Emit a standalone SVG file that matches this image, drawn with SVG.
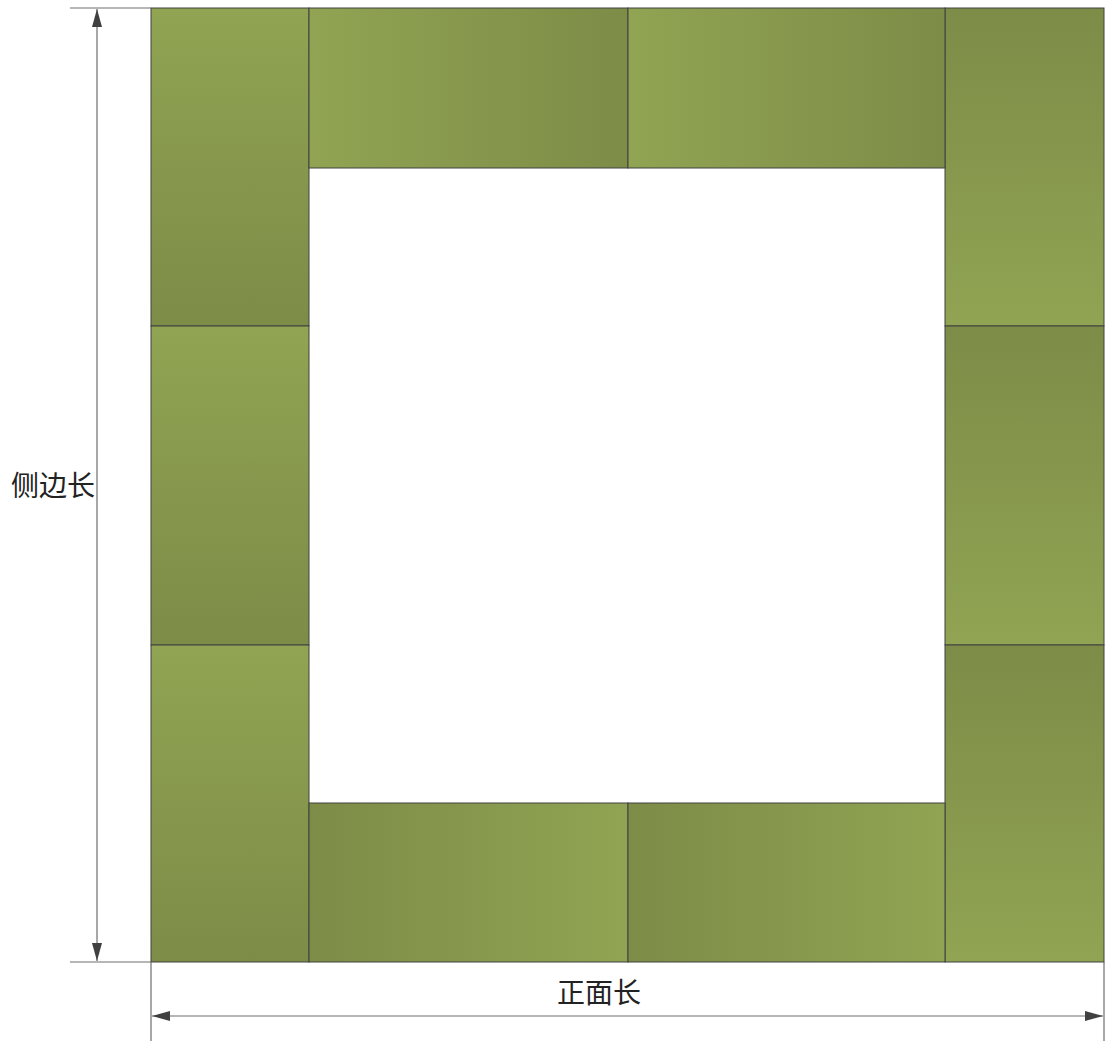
<svg xmlns="http://www.w3.org/2000/svg" width="1105" height="1041" viewBox="0 0 1105 1041">
<defs>
<linearGradient id="gTB" x1="0" y1="0" x2="0" y2="1"><stop offset="0" stop-color="#90a453"/><stop offset="1" stop-color="#7d8c47"/></linearGradient>
<linearGradient id="gBT" x1="0" y1="0" x2="0" y2="1"><stop offset="0" stop-color="#7d8c47"/><stop offset="1" stop-color="#90a453"/></linearGradient>
<linearGradient id="gLR" x1="0" y1="0" x2="1" y2="0"><stop offset="0" stop-color="#90a453"/><stop offset="1" stop-color="#7d8c47"/></linearGradient>
<linearGradient id="gRL" x1="0" y1="0" x2="1" y2="0"><stop offset="0" stop-color="#7d8c47"/><stop offset="1" stop-color="#90a453"/></linearGradient>
<marker id="arr" viewBox="0 0 18 10" refX="18" refY="5" markerWidth="18" markerHeight="10" markerUnits="userSpaceOnUse" orient="auto-start-reverse"><path d="M0,0 L18,5 L0,10 Z" fill="#404040"/></marker>
</defs>
<style>
.blk{stroke:#404040;stroke-width:1}
.dim{stroke:#6e6e6e;stroke-width:1.2;fill:none}
.lbl{font-family:"Noto Sans CJK SC","Liberation Serif",serif;font-size:28px;fill:#222}
</style>
<g id="left-top"><rect class="blk" x="151" y="8" width="158" height="318" fill="url(#gTB)"/></g>
<g id="left-mid"><rect class="blk" x="151" y="326" width="158" height="319" fill="url(#gTB)"/></g>
<g id="left-bot"><rect class="blk" x="151" y="645" width="158" height="317" fill="url(#gTB)"/></g>
<g id="right-top"><rect class="blk" x="945" y="8" width="159" height="318" fill="url(#gBT)"/></g>
<g id="right-mid"><rect class="blk" x="945" y="326" width="159" height="319" fill="url(#gBT)"/></g>
<g id="right-bot"><rect class="blk" x="945" y="645" width="159" height="317" fill="url(#gBT)"/></g>
<g id="top-left"><rect class="blk" x="309" y="8" width="319" height="160" fill="url(#gLR)"/></g>
<g id="top-right"><rect class="blk" x="628" y="8" width="317" height="160" fill="url(#gLR)"/></g>
<g id="bot-left"><rect class="blk" x="309" y="803" width="319" height="159" fill="url(#gRL)"/></g>
<g id="bot-right"><rect class="blk" x="628" y="803" width="317" height="159" fill="url(#gRL)"/></g>
<g id="connectors">
<line class="dim" x1="70" y1="8" x2="151" y2="8"/>
<line class="dim" x1="70" y1="962" x2="151" y2="962"/>
<line class="dim" x1="151" y1="962" x2="151" y2="1041"/>
<line class="dim" x1="1104" y1="962" x2="1104" y2="1041"/>
<line class="dim" x1="97" y1="9" x2="97" y2="961" marker-start="url(#arr)" marker-end="url(#arr)"/>
<line class="dim" x1="152" y1="1016" x2="1103" y2="1016" marker-start="url(#arr)" marker-end="url(#arr)"/>
</g>
<g id="labels">
<text class="lbl" x="53" y="496" text-anchor="middle">侧边长</text>
<text class="lbl" x="599" y="1003" text-anchor="middle">正面长</text>
</g>
</svg>
